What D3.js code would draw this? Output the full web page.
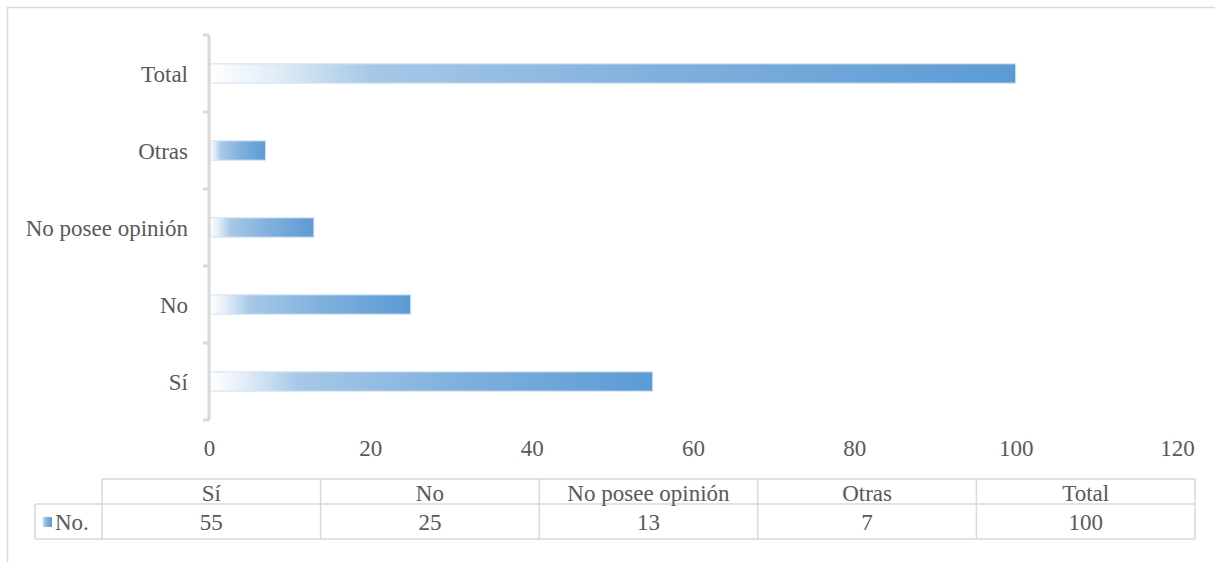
<!DOCTYPE html>
<html>
<head>
<meta charset="utf-8">
<script src="https://cdn.jsdelivr.net/npm/d3@7"></script>
<style>
  html, body { margin: 0; padding: 0; background: #fff; }
</style>
</head>
<body>
<svg id="chart" width="1215" height="562"></svg>
<script>
// Categories, from bottom to top of the bar chart (and left to right in the table)
const categories = ["Sí", "No", "No posee opinión", "Otras", "Total"];
const values = [55, 25, 13, 7, 100];
const seriesName = "No.";
const xTicks = [0, 20, 40, 60, 80, 100, 120];

const svg = d3.select("#chart");
const W = 1215, H = 562;
const grid = "#d9d9d9";
const fontSize = 23;
const serif = "'Liberation Serif', 'Times New Roman', Times, serif";
const textColor = "#595959";

// Outer chart frame
svg.append("rect")
  .attr("x", 7.5).attr("y", 7.5)
  .attr("width", W + 10).attr("height", H + 10)
  .attr("fill", "#fff").attr("stroke", grid).attr("stroke-width", 1.5);

// Horizontal gradient used for each bar and the legend key
const defs = svg.append("defs");
const grad = defs.append("linearGradient").attr("id", "barGrad")
  .attr("x1", "0%").attr("x2", "100%").attr("y1", "0%").attr("y2", "0%");
[[0, "#ffffff"], [0.08, "#e2edf8"], [0.2, "#a6c8e8"], [0.55, "#80b1de"], [1, "#5b9bd5"]]
  .forEach(([o, c]) => grad.append("stop").attr("offset", o).attr("stop-color", c));

// Scales
const x = d3.scaleLinear().domain([0, 120]).range([209, 1177]);
const y = d3.scaleBand().domain(categories).range([420, 35])
  .paddingInner(0.75).paddingOuter(0.375);

// Bars
svg.append("g").selectAll("rect")
  .data(categories.map((c, i) => ({ c, v: values[i] })))
  .join("rect")
  .attr("x", x(0) + 1)
  .attr("y", d => y(d.c))
  .attr("width", d => x(d.v) - x(0) - 1)
  .attr("height", y.bandwidth())
  .attr("fill", "url(#barGrad)")
  .attr("stroke", "#cfe1f3").attr("stroke-width", 1);

// Category axis: line with tick marks at band boundaries
const yAxis = svg.append("g").attr("transform", `translate(${x(0)},0)`);
yAxis.append("line")
  .attr("x1", 0).attr("x2", 0).attr("y1", 35).attr("y2", 420)
  .attr("stroke", grid).attr("stroke-width", 3);
const step = y.step();
const bounds = d3.range(categories.length + 1).map(i => 420 - i * step);
yAxis.selectAll("line.tick").data(bounds).join("line").attr("class", "tick")
  .attr("x1", -6).attr("x2", 0).attr("y1", d => d).attr("y2", d => d)
  .attr("stroke", grid).attr("stroke-width", 3);

// Category labels
svg.append("g").selectAll("text").data(categories).join("text")
  .attr("x", 188)
  .attr("y", d => y(d) + y.bandwidth() / 2)
  .attr("dy", "0.35em")
  .attr("text-anchor", "end")
  .style("font-family", serif).style("font-size", fontSize + "px").style("fill", textColor)
  .text(d => d);

// Value axis labels
const xAxis = d3.axisBottom(x).tickValues(xTicks).tickSize(0).tickPadding(0);
const gx = svg.append("g").attr("transform", "translate(0,448)").call(xAxis);
gx.select(".domain").remove();
gx.selectAll("text")
  .attr("dy", "0.35em").attr("y", 0)
  .style("font-family", serif).style("font-size", fontSize + "px").style("fill", textColor);

// Data table below the chart
const tbl = svg.append("g");
const col = d3.scaleBand().domain(categories).range([102, 1195]);
const rowTop = 479, rowMid = 504, rowBot = 539, legLeft = 35;
const line = (x1, y1, x2, y2) => tbl.append("line")
  .attr("x1", x1).attr("y1", y1).attr("x2", x2).attr("y2", y2)
  .attr("stroke", grid).attr("stroke-width", 1.5);

line(102, rowTop, 1195, rowTop);
line(legLeft, rowMid, 1195, rowMid);
line(legLeft, rowBot, 1195, rowBot);
line(legLeft, rowMid, legLeft, rowBot);
categories.forEach(c => line(col(c), rowTop, col(c), rowBot));
line(1195, rowTop, 1195, rowBot);

tbl.selectAll("text.head").data(categories).join("text").attr("class", "head")
  .attr("x", d => col(d) + col.bandwidth() / 2)
  .attr("y", (rowTop + rowMid) / 2 + 1).attr("dy", "0.35em")
  .attr("text-anchor", "middle")
  .style("font-family", serif).style("font-size", fontSize + "px").style("fill", textColor)
  .text(d => d);

tbl.selectAll("text.val").data(values).join("text").attr("class", "val")
  .attr("x", (d, i) => col(categories[i]) + col.bandwidth() / 2)
  .attr("y", (rowMid + rowBot) / 2).attr("dy", "0.35em")
  .attr("text-anchor", "middle")
  .style("font-family", serif).style("font-size", fontSize + "px").style("fill", textColor)
  .text(d => d);

// Legend key in the row header
tbl.append("rect")
  .attr("x", 42).attr("y", 517).attr("width", 10).attr("height", 10)
  .attr("fill", "url(#barGrad)");
tbl.append("text")
  .attr("x", 55).attr("y", (rowMid + rowBot) / 2).attr("dy", "0.35em")
  .style("font-family", serif).style("font-size", fontSize + "px").style("fill", textColor)
  .text(seriesName);
</script>
</body>
</html>
